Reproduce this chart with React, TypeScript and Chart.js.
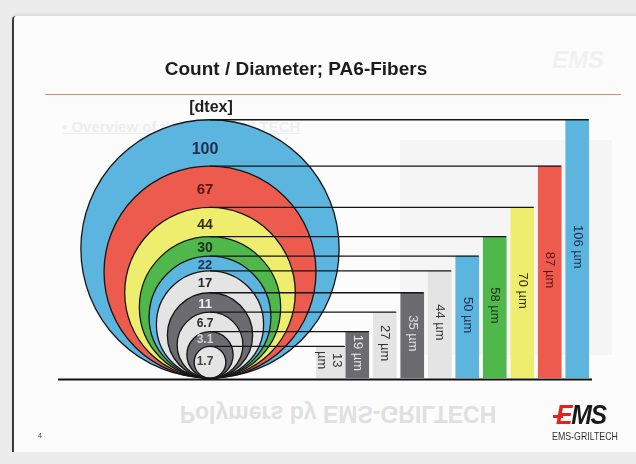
import React, { useEffect, useRef } from "react";
import { Chart, registerables } from "chart.js";

Chart.register(...registerables);

// ---- data ----
const barLabels = ["13 µm", "19 µm", "27 µm", "35 µm", "44 µm", "50 µm", "58 µm", "70 µm", "87 µm", "106 µm"];
const diameterUm = [13, 19, 27, 35, 44, 50, 58, 70, 87, 106];
const countDtex = ["1.7", "3.1", "6.7", "11", "17", "22", "30", "44", "67", "100"];
const titleText = "Count / Diameter; PA6-Fibers";
const unitText = "[dtex]";

// ---- styles ----
const BLUE = "#5cb5de";
const RED = "#ec5b4d";
const YELLOW = "#efed6e";
const GREEN = "#50b84b";
const LIGHT = "#e4e4e4";
const DARK = "#6b6b70";
const fills = [LIGHT, DARK, LIGHT, DARK, LIGHT, BLUE, GREEN, YELLOW, RED, BLUE];
const circleTextColors = ["#404040", "#d2d2d2", "#2a2a2a", "#f2f2f2", "#2a2a2a", "#1b2f4a", "#1d2f1d", "#333300", "#5a1712", "#1b2f4a"];
const circleFontSizes = [12, 12, 12, 13, 13, 13, 14, 14, 15, 16];
const circleLabelShift = [0, 1, 2, 2, 2, 2, 2, 3, 3, 7];
const barTextColors = ["#333333", "#e8e8e8", "#333333", "#e2e2e2", "#333333", "#1b2f4a", "#1d301d", "#333300", "#5a1712", "#1b2f4a"];
const FONT = "'Liberation Sans', Arial, Helvetica, sans-serif";
const CIRCLE_CX = 210;
const BASE_LEFT = 58;
const BASE_RIGHT = 592;

function barFor(chart: any, i: number) {
  return i === 0 ? chart.getDatasetMeta(0).data[0] : chart.getDatasetMeta(1).data[i];
}

const fiberPlugin = {
  id: "fibers",
  beforeDatasetsDraw(chart: any) {
    const { ctx, scales } = chart;
    const y = scales.y;
    const y0 = y.getPixelForValue(0);
    ctx.save();
    for (let i = diameterUm.length - 1; i >= 0; i--) {
      const top = y.getPixelForValue(diameterUm[i]);
      const r = (y0 - top) / 2;
      ctx.beginPath();
      ctx.arc(CIRCLE_CX, y0 - r, r, 0, Math.PI * 2);
      ctx.fillStyle = fills[i];
      ctx.fill();
      ctx.lineWidth = 1.3;
      ctx.strokeStyle = "#151515";
      ctx.stroke();
    }
    ctx.restore();
  },
  afterDatasetsDraw(chart: any) {
    const { ctx, scales } = chart;
    const y = scales.y;
    const y0 = y.getPixelForValue(0);
    ctx.save();
    // connecting lines
    ctx.strokeStyle = "#151515";
    ctx.lineWidth = 1.3;
    for (let i = 0; i < diameterUm.length; i++) {
      const bar = barFor(chart, i);
      const top = y.getPixelForValue(diameterUm[i]);
      ctx.beginPath();
      ctx.moveTo(CIRCLE_CX, top);
      ctx.lineTo(bar.x + bar.width / 2, top);
      ctx.stroke();
    }
    // base line
    ctx.lineWidth = 2;
    ctx.strokeStyle = "#111";
    ctx.beginPath();
    ctx.moveTo(BASE_LEFT, y0 + 1.5);
    ctx.lineTo(BASE_RIGHT, y0 + 1.5);
    ctx.stroke();

    // circle labels
    ctx.textAlign = "center";
    ctx.textBaseline = "middle";
    for (let i = 0; i < diameterUm.length; i++) {
      const top = y.getPixelForValue(diameterUm[i]);
      let cy: number;
      if (i === 0) {
        cy = (top + y0) / 2;
      } else {
        const innerTop = y.getPixelForValue(diameterUm[i - 1]);
        cy = (top + innerTop) / 2 + circleLabelShift[i];
      }
      ctx.font = `bold ${circleFontSizes[i]}px ${FONT}`;
      ctx.fillStyle = circleTextColors[i];
      ctx.fillText(countDtex[i], CIRCLE_CX - 5, cy);
    }
    // unit label
    ctx.font = `bold 16px ${FONT}`;
    ctx.fillStyle = "#1e1e1e";
    ctx.fillText(unitText, CIRCLE_CX + 1, y.getPixelForValue(diameterUm[diameterUm.length - 1]) - 12);

    // bar labels (rotated)
    ctx.font = `13px ${FONT}`;
    for (let i = 0; i < diameterUm.length; i++) {
      const bar = barFor(chart, i);
      const cyb = (bar.y + bar.base) / 2 - 2;
      ctx.save();
      ctx.translate(bar.x, cyb);
      ctx.rotate(Math.PI / 2);
      ctx.fillStyle = barTextColors[i];
      const parts = barLabels[i].split(" ");
      if (i === 0) {
        ctx.fillText(parts[0], 0, -7);
        ctx.fillText(parts[1], 0, 8);
      } else {
        ctx.fillText(barLabels[i], 0, 0);
      }
      ctx.restore();
    }
    ctx.restore();
  },
};

export default function App() {
  const ref = useRef<HTMLCanvasElement>(null);
  useEffect(() => {
    const chart = new Chart(ref.current as HTMLCanvasElement, {
      type: "bar",
      data: {
        labels: barLabels,
        datasets: [
          {
            data: diameterUm.map((v, i) => (i === 0 ? v : null)),
            backgroundColor: fills,
            borderWidth: 0,
            barThickness: 30,
            grouped: false,
          } as any,
          {
            data: diameterUm.map((v, i) => (i === 0 ? null : v)),
            backgroundColor: fills,
            borderWidth: 0,
            barThickness: 23,
            grouped: false,
          } as any,
        ],
      },
      options: {
        animation: false,
        responsive: false,
        devicePixelRatio: 1,
        layout: { padding: { left: 316, right: 45, top: 110, bottom: 86 } },
        scales: {
          x: { display: false },
          y: { display: false, min: 0, max: 110 },
        },
        plugins: { legend: { display: false }, tooltip: { enabled: false } },
      },
      plugins: [fiberPlugin],
    });
    return () => chart.destroy();
  }, []);

  const ghost = "#eeeeee";
  return (
    <div style={{ position: "fixed", left: 0, top: 0, width: 636, height: 464, background: "#ececec", overflow: "hidden", fontFamily: FONT }}>
      <div style={{ position: "absolute", left: 12, top: 16, width: 640, height: 436, background: "#fcfcfc", borderLeft: "2px solid #3c3c3c", borderTopLeftRadius: 4, boxShadow: "0 -2px 3px rgba(0,0,0,0.08)" }} />
      {/* faint bleed-through of the previous page */}
      <div style={{ position: "absolute", left: 400, top: 140, width: 212, height: 215, background: "#f5f5f5" }} />
      <div style={{ position: "absolute", left: 62, top: 118, fontSize: 15, fontWeight: "bold", color: ghost, textDecoration: "underline" }}>• Overview of the EMS-GRILTECH</div>
      <div style={{ position: "absolute", left: 552, top: 46, fontSize: 24, fontWeight: "bold", fontStyle: "italic", color: "#f1f1f1" }}>EMS</div>
      <div style={{ position: "absolute", left: 0, width: 676, top: 400, textAlign: "center", fontSize: 23, fontWeight: "bold", color: "#e0e0e0", transform: "scaleY(-1)" }}>Polymers by EMS-GRILTECH</div>

      <canvas ref={ref} width={636} height={464} style={{ position: "absolute", left: 0, top: 0 }} />

      <div style={{ position: "absolute", left: 0, width: 592, top: 59, textAlign: "center", fontSize: 19, lineHeight: "19px", fontWeight: "bold", color: "#1c1c1c" }}>{titleText}</div>
      <div style={{ position: "absolute", left: 45, top: 93.5, width: 576, height: 1.6, background: "#e2876f" }} />

      <div style={{ position: "absolute", left: 38, top: 432, fontSize: 7, color: "#444" }}>4</div>
      <div style={{ position: "absolute", left: 556, top: 402, fontSize: 27, lineHeight: "27px", fontWeight: "bold", fontStyle: "italic", letterSpacing: -1.5, transform: "scaleX(0.92)", transformOrigin: "left" }}>
        <span style={{ color: "#e2231a" }}>E</span>
        <span style={{ color: "#1a1a1a" }}>MS</span>
      </div>
      <div style={{ position: "absolute", left: 553, top: 415, width: 10, height: 2.5, background: "#e2231a" }} />
      <div style={{ position: "absolute", left: 552, top: 431, fontSize: 10.5, lineHeight: "11px", color: "#333", transform: "scaleX(0.84)", transformOrigin: "left" }}>EMS-GRILTECH</div>
    </div>
  );
}
